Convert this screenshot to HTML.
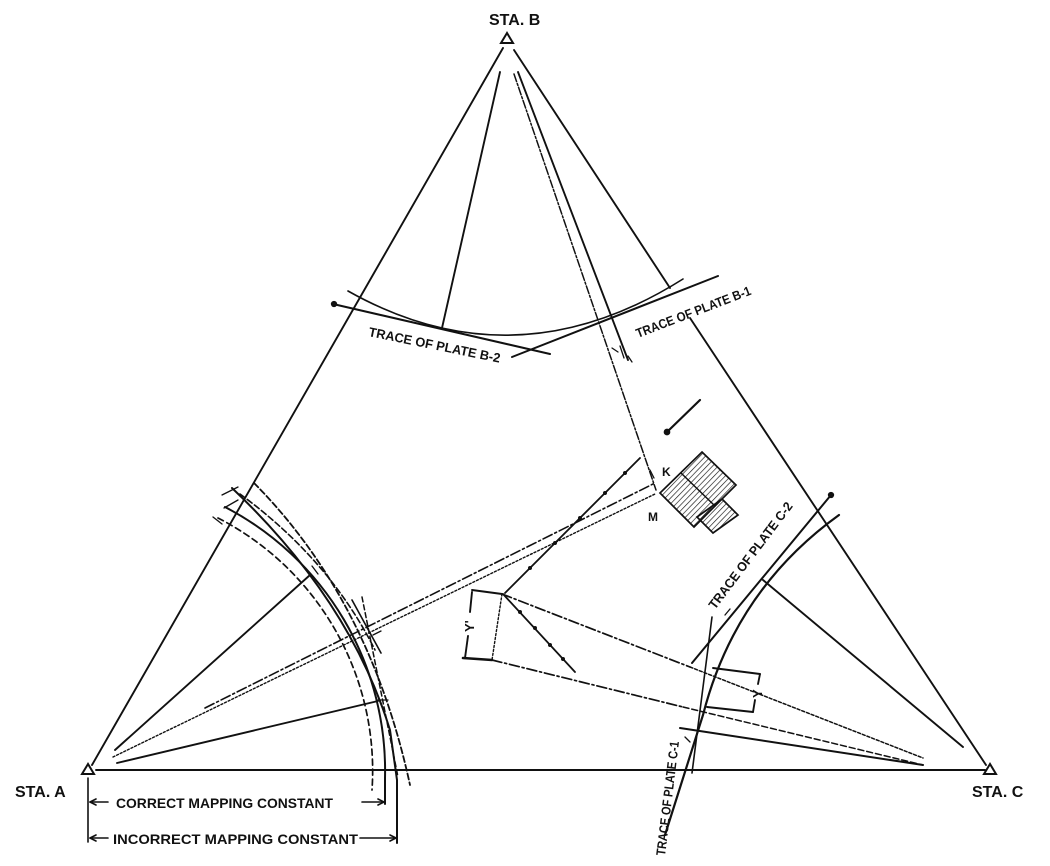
<!DOCTYPE html>
<html><head><meta charset="utf-8"><style>
html,body{margin:0;padding:0;background:#fff;}
svg{display:block;}
text{font-family:"Liberation Sans Narrow","Liberation Sans",sans-serif;font-weight:bold;fill:#111;}
</style></head><body>
<svg width="1050" height="866" viewBox="0 0 1050 866" xmlns="http://www.w3.org/2000/svg">
<defs>
<pattern id="h" width="4" height="4" patternUnits="userSpaceOnUse" patternTransform="rotate(44)">
<line x1="0" y1="0" x2="0" y2="4" stroke="#111" stroke-width="1.3"/>
</pattern>
</defs>
<g fill="none" stroke="#111" stroke-width="1.9" stroke-linecap="round">
<!-- stations -->
<polygon points="507,33 501,43 513,43" stroke-width="2" fill="#fff"/>
<polygon points="88,764 82,774 94,774" stroke-width="2" fill="#fff"/>
<polygon points="990,764 984,774 996,774" stroke-width="2" fill="#fff"/>
<!-- triangle edges -->
<line x1="503" y1="48" x2="92" y2="765"/>
<line x1="514" y1="50" x2="670" y2="288"/>
<line x1="690" y1="318" x2="986" y2="765"/>
<line x1="96" y1="770" x2="985" y2="770"/>
<!-- lines from B -->
<line x1="500" y1="72" x2="442" y2="328"/>
<line x1="518" y1="72" x2="628" y2="360"/>
<line x1="514" y1="74" x2="656" y2="490" stroke-dasharray="8 2 2 2" stroke-width="1.5"/>
<!-- B traces -->
<line x1="333" y1="304" x2="550" y2="354" stroke-width="2"/>
<circle cx="334" cy="304" r="2.2" fill="#111"/>
<line x1="512" y1="357" x2="718" y2="276" stroke-width="2"/>
<path d="M348,291 Q515,385 683,279" stroke-width="1.6"/>
<path d="M612,348 L618,352 M620,346 L624,358 M628,356 L632,362" stroke-width="1.3"/>
<!-- small arrow -->
<line x1="667" y1="432" x2="700" y2="400" stroke-width="2.2"/>
<circle cx="667" cy="432" r="2.4" fill="#111"/>
<path d="M650,470 L654,478" stroke-width="1.3"/>
<!-- lines from A -->
<line x1="115" y1="750" x2="310" y2="575"/>
<line x1="117" y1="763" x2="378" y2="701"/>
<line x1="113" y1="757" x2="655" y2="494" stroke-dasharray="2 2" stroke-width="1.4"/>
<line x1="205" y1="708" x2="655" y2="483" stroke-dasharray="10 3 2 3" stroke-width="1.6"/>
<!-- arcs around A -->
<path d="M225,507 A297,297 0 0 1 385,778 L385,804" stroke-width="2"/>
<path d="M218,518 A284,284 0 0 1 372,790" stroke-dasharray="6 4" stroke-width="1.7"/>
<path d="M232,488 Q350,600 390,730 L397,780 L397,843" stroke-width="2"/>
<path d="M254,483 Q370,600 410,785" stroke-dasharray="6 3" stroke-width="1.8"/>
<path d="M240,494 Q330,560 375,650" stroke-dasharray="6 3" stroke-width="1.6"/>
<line x1="362" y1="597" x2="398" y2="777" stroke-dasharray="5 3" stroke-width="1.5"/>
<line x1="352" y1="600" x2="381" y2="653" stroke-width="1.6"/>
<path d="M222,495 L238,487 M224,508 L238,500 M213,517 L222,524 M312,566 L318,574 M373,635 L381,631 M378,700 L388,700" stroke-width="1.3"/>
<!-- dotted chains -->
<line x1="505" y1="593" x2="640" y2="458" stroke-width="1.8"/>
<line x1="503" y1="594" x2="575" y2="672" stroke-width="1.8"/>
<g fill="#111" stroke="none">
<circle cx="530" cy="568" r="2"/><circle cx="555" cy="543" r="2"/><circle cx="580" cy="518" r="2"/><circle cx="605" cy="493" r="2"/><circle cx="625" cy="473" r="2"/>
<circle cx="520" cy="612" r="2"/><circle cx="535" cy="628" r="2"/><circle cx="550" cy="645" r="2"/><circle cx="563" cy="659" r="2"/>
</g>
<!-- Y' dimension -->
<line x1="472" y1="590" x2="502" y2="594"/>
<line x1="472" y1="592" x2="470" y2="612"/>
<line x1="468" y1="636" x2="465" y2="658"/>
<line x1="463" y1="658" x2="492" y2="660" stroke-width="2.6"/>
<line x1="502" y1="594" x2="492" y2="660" stroke-dasharray="2 2" stroke-width="1.4"/>
<!-- rays toward C -->
<path d="M502,594 L690,667" stroke-dasharray="10 3 2 3" stroke-width="1.7"/>
<path d="M690,667 L923,758" stroke-dasharray="3 2" stroke-width="1.5"/>
<path d="M492,660 L683,707" stroke-dasharray="10 3 2 3" stroke-width="1.7"/>
<path d="M683,707 L923,765" stroke-dasharray="6 3" stroke-width="1.5"/>
<line x1="680" y1="728" x2="923" y2="765" stroke-width="2"/>
<line x1="763" y1="580" x2="963" y2="747"/>
<!-- Y dimension right -->
<line x1="713" y1="668" x2="760" y2="674"/>
<line x1="760" y1="674" x2="758" y2="684"/>
<line x1="755" y1="700" x2="753" y2="712"/>
<line x1="707" y1="707" x2="753" y2="712"/>
<!-- C traces -->
<line x1="831" y1="495" x2="692" y2="663" stroke-width="2"/>
<circle cx="831" cy="495" r="2.2" fill="#111"/>
<path d="M839,515 Q735,590 703,715 L665,835" stroke-width="2.2"/>
<line x1="712" y1="617" x2="692" y2="773" stroke-width="1.6"/>
<path d="M725,615 L730,609 M685,737 L690,742" stroke-width="1.3"/>
<!-- building -->
<polygon points="702,452 736,485 694,527 660,493" fill="url(#h)" stroke-width="1.7"/>
<polygon points="722,499 738,515 713,533 697,517" fill="url(#h)" stroke-width="1.7"/>
<line x1="681" y1="473" x2="715" y2="506" stroke-width="1.5"/>
<!-- dimension lines bottom -->
<line x1="88" y1="778" x2="88" y2="842" stroke-width="1.6"/>
<line x1="90" y1="802" x2="108" y2="802" stroke-width="1.6"/>
<path d="M90,802 l6,-3 M90,802 l6,3" stroke-width="1.6"/>
<line x1="362" y1="802" x2="384" y2="802" stroke-width="1.6"/>
<path d="M384,802 l-6,-3 M384,802 l-6,3" stroke-width="1.6"/>
<line x1="90" y1="838" x2="108" y2="838" stroke-width="1.6"/>
<path d="M90,838 l6,-3 M90,838 l6,3" stroke-width="1.6"/>
<line x1="360" y1="838" x2="396" y2="838" stroke-width="1.6"/>
<path d="M396,838 l-6,-3 M396,838 l-6,3" stroke-width="1.6"/>
</g>
<!-- text -->
<text x="489" y="25" font-size="16">STA. B</text>
<text x="15" y="797" font-size="16">STA. A</text>
<text x="972" y="797" font-size="16">STA. C</text>
<text x="116" y="808" font-size="14" textLength="217" lengthAdjust="spacingAndGlyphs">CORRECT MAPPING CONSTANT</text>
<text x="113" y="844" font-size="14" textLength="245" lengthAdjust="spacingAndGlyphs">INCORRECT MAPPING CONSTANT</text>
<text x="0" y="0" font-size="13" transform="translate(368,336) rotate(11.5)" textLength="134" lengthAdjust="spacingAndGlyphs">TRACE OF PLATE B-2</text>
<text x="0" y="0" font-size="13" transform="translate(638,338) rotate(-21)" textLength="122" lengthAdjust="spacingAndGlyphs">TRACE OF PLATE B-1</text>
<text x="0" y="0" font-size="13" transform="translate(715,610) rotate(-53)" textLength="130" lengthAdjust="spacingAndGlyphs">TRACE OF PLATE C-2</text>
<text x="0" y="0" font-size="13" transform="translate(665,856) rotate(-83)" textLength="115" lengthAdjust="spacingAndGlyphs">TRACE OF PLATE C-1</text>
<text x="662" y="476" font-size="12">K</text>
<text x="648" y="521" font-size="12">M</text>
<text x="0" y="0" font-size="13" transform="translate(474,632) rotate(-90)">Y'</text>
<text x="0" y="0" font-size="13" transform="translate(762,698) rotate(-90)">Y</text>
</svg>
</body></html>
